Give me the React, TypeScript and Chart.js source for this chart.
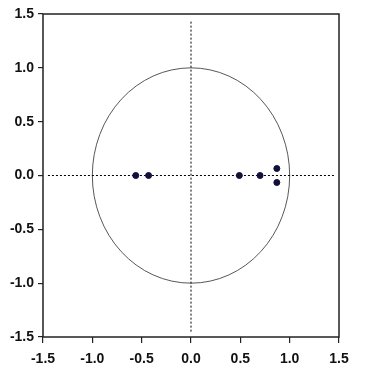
import React, { useEffect, useRef } from "react";
import { Chart, registerables } from "chart.js";

Chart.register(...registerables);

const rootsX = [-0.56, -0.43, 0.49, 0.7, 0.87, 0.87];
const rootsY = [0, 0, 0, 0, 0.065, -0.065];
const axisMin = -1.5;
const axisMax = 1.5;
const tickStep = 0.5;
const refLineX = [-1.45, 1.45];
const refLineY = [-1.45, 1.45];
const circleRadius = 1;

const framePlugin = {
  id: "frame",
  beforeDatasetsDraw(chart: any) {
    const { ctx, scales } = chart;
    const xs = scales.x;
    const ys = scales.y;
    const cx = xs.getPixelForValue(0);
    const cy = ys.getPixelForValue(0);
    const rx = xs.getPixelForValue(circleRadius) - cx;
    const ry = cy - ys.getPixelForValue(circleRadius);
    ctx.save();
    ctx.strokeStyle = "#444";
    ctx.lineWidth = 0.9;
    ctx.beginPath();
    ctx.ellipse(cx, cy, rx, ry, 0, 0, Math.PI * 2);
    ctx.stroke();
    ctx.restore();
  },
  afterDraw(chart: any) {
    const { ctx, chartArea } = chart;
    ctx.save();
    ctx.strokeStyle = "#222";
    ctx.lineWidth = 1.5;
    ctx.strokeRect(chartArea.left, chartArea.top, chartArea.right - chartArea.left, chartArea.bottom - chartArea.top);
    ctx.restore();
  },
};

export default function App() {
  const ref = useRef<HTMLCanvasElement>(null);
  useEffect(() => {
    document.body.style.margin = "0";
    const font = { family: "'Liberation Sans', Arial, sans-serif", size: 14, weight: "bold" as const };
    const chart = new Chart(ref.current!, {
      type: "scatter",
      data: {
        datasets: [
          {
            data: rootsX.map((x, i) => ({ x, y: rootsY[i] })),
            backgroundColor: "#10103a",
            borderColor: "#10103a",
            pointRadius: 3,
            order: 0,
          },
          {
            data: refLineX.map((x) => ({ x, y: 0 })),
            showLine: true,
            borderColor: "#000",
            borderWidth: 1,
            borderDash: [2, 2],
            pointRadius: 0,
            order: 1,
          } as any,
          {
            data: refLineY.map((y) => ({ x: 0, y })),
            showLine: true,
            borderColor: "#000",
            borderWidth: 1,
            borderDash: [2, 2],
            pointRadius: 0,
            order: 2,
          } as any,
        ],
      },
      options: {
        animation: false,
        responsive: false,
        layout: { padding: { top: 14, right: 37, left: 0, bottom: 0 } },
        plugins: { legend: { display: false }, tooltip: { enabled: false } },
        scales: {
          x: {
            type: "linear",
            min: axisMin,
            max: axisMax,
            border: { display: false },
            grid: { drawOnChartArea: false, drawTicks: true, tickLength: 6, color: "#222", lineWidth: 1.2 },
            ticks: { stepSize: tickStep, color: "#111", font, padding: 8, callback: (v: any) => Number(v).toFixed(1) },
            afterFit: (s: any) => { s.height = 38; },
          },
          y: {
            type: "linear",
            min: axisMin,
            max: axisMax,
            border: { display: false },
            grid: { drawOnChartArea: false, drawTicks: true, tickLength: 5, color: "#222", lineWidth: 1.2 },
            ticks: { stepSize: tickStep, color: "#111", font, padding: 4, callback: (v: any) => Number(v).toFixed(1) },
            afterFit: (s: any) => { s.width = 43; },
          },
        },
      },
      plugins: [framePlugin],
    });
    return () => chart.destroy();
  }, []);
  return (
    <div style={{ width: 376, height: 375 }}>
      <canvas ref={ref} width={376} height={375} style={{ display: "block" }} />
    </div>
  );
}
